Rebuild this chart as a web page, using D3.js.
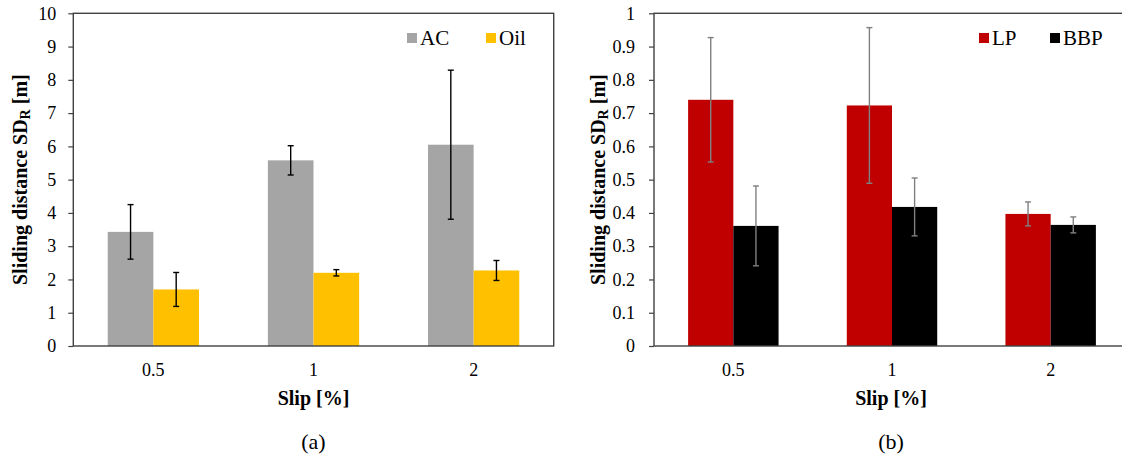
<!DOCTYPE html>
<html>
<head>
<meta charset="utf-8">
<script src="https://cdn.jsdelivr.net/npm/d3@7"></script>
<style>
  html, body { margin: 0; padding: 0; background: #fff; }
  svg { display: block; }
</style>
</head>
<body>
<svg id="fig" width="1122" height="462"></svg>
<script>
// Slip ratios on the x axis
const slips = ["0.5", "1", "2"];

// Panel (a): AC vs oil lubrication, sliding distance in m
const acMean = [3.43, 5.58, 6.05];
const acErr = [0.82, 0.44, 2.24];
const oilMean = [1.70, 2.20, 2.27];
const oilErr = [0.51, 0.095, 0.30];

// Panel (b): LP vs BBP, sliding distance in m
const lpMean = [0.740, 0.723, 0.397];
const lpErr = [0.187, 0.234, 0.036];
const bbpMean = [0.361, 0.418, 0.364];
const bbpErr = [0.120, 0.087, 0.024];

const ticksA = d3.range(0, 11, 1);
const ticksB = d3.range(0, 11, 1).map(d => d / 10);

const FONT = "'Liberation Serif', Tinos, 'Times New Roman', serif";

const svg = d3.select("#fig").style("font-family", FONT);

function panel(opts) {
  const g = svg.append("g");
  const x = d3.scaleBand().domain(slips).range([opts.x0, opts.x1])
    .paddingInner(0.43).paddingOuter(0.215);
  const xs = d3.scaleBand().domain(opts.series.map(s => s.name))
    .range([0, x.bandwidth()]);
  const y = d3.scaleLinear().domain(opts.domain).range([opts.yBot, opts.yTop]);

  // bars
  opts.series.forEach(s => {
    g.append("g").selectAll("rect").data(slips).join("rect")
      .attr("x", d => x(d) + xs(s.name))
      .attr("width", xs.bandwidth())
      .attr("y", (d, i) => y(s.mean[i]))
      .attr("height", (d, i) => y(0) - y(s.mean[i]))
      .attr("fill", s.color);
  });

  // error bars
  opts.series.forEach(s => {
    const eg = g.append("g").attr("stroke", opts.errColor).attr("stroke-width", 1.4);
    slips.forEach((d, i) => {
      const cx = x(d) + xs(s.name) + xs.bandwidth() / 2;
      const lo = y(s.mean[i] - s.err[i]);
      const hi = y(s.mean[i] + s.err[i]);
      eg.append("line").attr("x1", cx).attr("x2", cx).attr("y1", lo).attr("y2", hi);
      eg.append("line").attr("x1", cx - 3).attr("x2", cx + 3).attr("y1", lo).attr("y2", lo);
      eg.append("line").attr("x1", cx - 3).attr("x2", cx + 3).attr("y1", hi).attr("y2", hi);
    });
  });

  // plot frame
  g.append("rect")
    .attr("x", opts.x0).attr("y", opts.yTop)
    .attr("width", opts.x1 - opts.x0).attr("height", opts.yBot - opts.yTop)
    .attr("fill", "none").attr("stroke", "#404040").attr("stroke-width", 1.4);

  // y axis
  const ya = g.append("g").attr("transform", `translate(${opts.x0},0)`)
    .call(d3.axisLeft(y).tickValues(opts.ticks).tickSize(5).tickPadding(opts.tickPad)
      .tickFormat(d3.format("")));
  ya.style("font-family", FONT).attr("font-size", 18);
  ya.select(".domain").remove();
  ya.selectAll(".tick line").attr("stroke", "#404040").attr("stroke-width", 1.2);
  ya.selectAll(".tick text").attr("fill", "#000");

  // x labels
  g.append("g").selectAll("text").data(slips).join("text")
    .attr("x", d => x(d) + x.bandwidth() / 2)
    .attr("y", 376)
    .attr("text-anchor", "middle")
    .attr("font-size", 18)
    .text(d => d);

  // x title
  g.append("text")
    .attr("x", (opts.x0 + opts.x1c) / 2).attr("y", 405)
    .attr("text-anchor", "middle")
    .attr("font-size", 20).attr("font-weight", "bold")
    .text("Slip [%]");

  // y title
  const yt = g.append("text")
    .attr("transform", `translate(${opts.ytX},${(opts.yTop + opts.yBot) / 2}) rotate(-90)`)
    .attr("text-anchor", "middle")
    .attr("font-size", 20).attr("font-weight", "bold");
  yt.append("tspan").text("Sliding distance SD");
  yt.append("tspan").attr("dy", 3).attr("font-size", 14).text("R");
  yt.append("tspan").attr("dy", -3).text(" [m]");

  // legend
  opts.series.forEach((s, i) => {
    const lx = opts.legendX[i];
    g.append("rect").attr("x", lx).attr("y", 33).attr("width", 10).attr("height", 10)
      .attr("fill", s.color);
    g.append("text").attr("x", lx + 13).attr("y", 44.5)
      .attr("font-size", 21).text(s.name);
  });

  // caption
  g.append("text")
    .attr("x", (opts.x0 + opts.x1c) / 2).attr("y", 449)
    .attr("text-anchor", "middle")
    .attr("font-size", 22)
    .text(opts.caption);
}

panel({
  x0: 73.3, x1: 553.7, x1c: 553.7, yTop: 13.3, yBot: 346,
  domain: [0, 10], ticks: ticksA, tickPad: 12,
  errColor: "#000",
  series: [
    { name: "AC", mean: acMean, err: acErr, color: "#a5a5a5" },
    { name: "Oil", mean: oilMean, err: oilErr, color: "#ffc000" }
  ],
  legendX: [407, 486],
  ytX: 27,
  caption: "(a)"
});

panel({
  x0: 654, x1: 1130, x1c: 1128, yTop: 13.3, yBot: 346,
  domain: [0, 1], ticks: ticksB, tickPad: 14,
  errColor: "#808080",
  series: [
    { name: "LP", mean: lpMean, err: lpErr, color: "#c00000" },
    { name: "BBP", mean: bbpMean, err: bbpErr, color: "#000000" }
  ],
  legendX: [979, 1050],
  ytX: 605,
  caption: "(b)"
});
</script>
</body>
</html>
